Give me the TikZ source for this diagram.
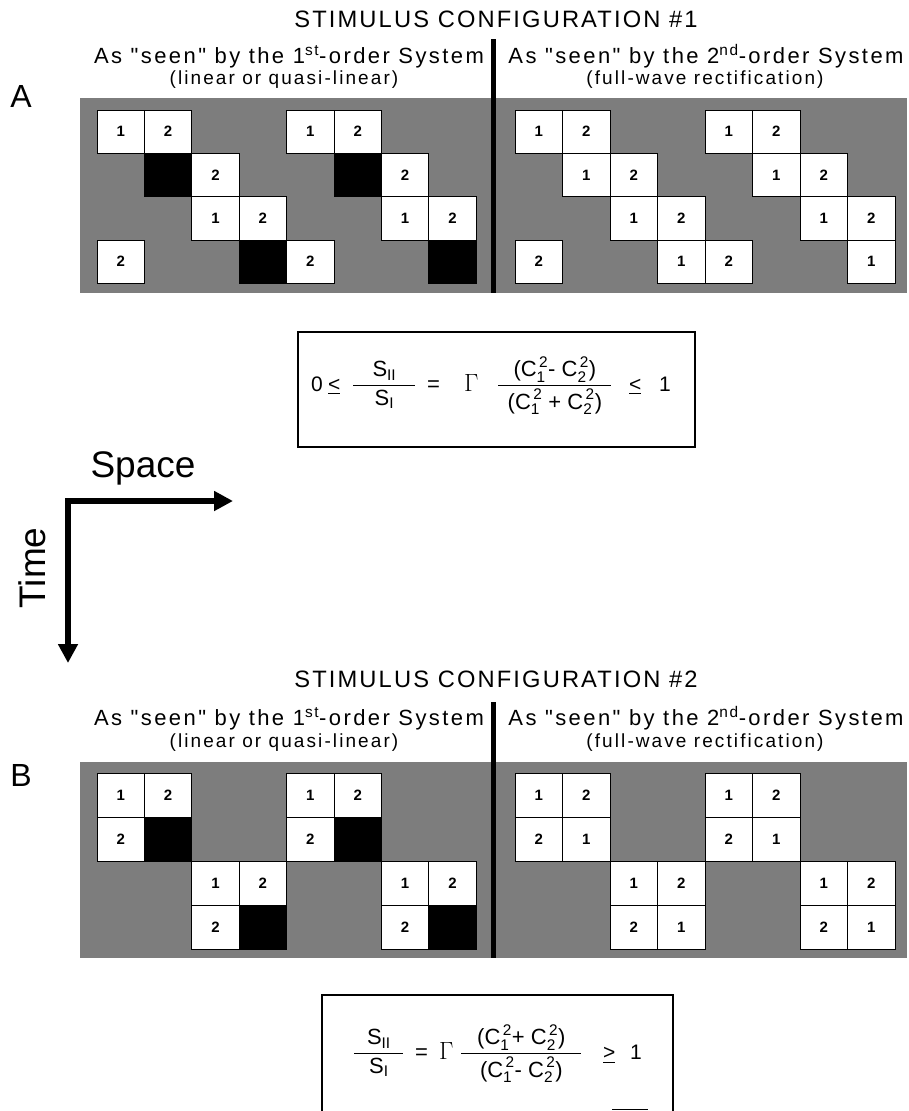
\documentclass[tikz,border=0pt]{standalone}
\usepackage{amsmath}
\usepackage{fontspec}
\setmainfont{Liberation Sans}
\newfontfamily\spacedfont[LetterSpace=9]{Liberation Sans}
\newfontfamily\widefont[LetterSpace=11]{Liberation Sans}
\usetikzlibrary{arrows.meta}
\definecolor{halftone}{RGB}{125,125,125}
\newcommand\tx[1]{\text{#1}}
\newcommand\Csq[1]{\tx{C}^{\,\tx{2}}_{\tx{#1}}}
\newcommand\wfrac[3]{$\displaystyle\frac{\hbox to #1{\hss$\displaystyle #2$\hss}}{\hbox to #1{\hss$\displaystyle #3$\hss}}$}
\tikzset{
  wcell/.style={draw=black, line width=0.7pt, fill=white, inner sep=0pt,
    minimum width=47.4pt, minimum height=43.3pt, font=\fontsize{15}{15}\selectfont\bfseries},
  bcell/.style={wcell, fill=black},
  wcellB/.style={wcell, minimum height=44pt},
  bcellB/.style={bcell, minimum height=44pt},
  titletext/.style={inner sep=0pt, anchor=base, font=\spacedfont\fontsize{23.7}{28}\selectfont},
  headtext/.style={inner sep=0pt, anchor=base, font=\widefont\fontsize{22}{26}\selectfont},
  subtext/.style={inner sep=0pt, anchor=base, font=\widefont\fontsize{19}{22}\selectfont},
  panelletter/.style={inner sep=0pt, anchor=base, font=\fontsize{32}{36}\selectfont},
  axislabel/.style={inner sep=0pt, anchor=base, font=\fontsize{37}{40}\selectfont},
  divider/.style={line width=5pt, black},
  eqbox/.style={line width=1.4pt, black},
  eqpart/.style={inner sep=0pt, anchor=base west, font=\fontsize{22}{26}\selectfont},
  eqsmall/.style={inner sep=0pt, anchor=base west, font=\fontsize{21}{25}\selectfont},
  axisarrow/.style={line width=5.5pt, line join=miter, {Triangle[length=19pt,width=19pt]}-{Triangle[length=19pt,width=19pt]}}
}
\begin{document}
\begin{tikzpicture}[x=1pt,y=-1pt]
\useasboundingbox (0,0) rectangle (908,1111);
\fill[white] (0,0) rectangle (908,1111);

% ---------------- Panel A ----------------
\node[titletext] (titleA) at (496,27) {STIMULUS CONFIGURATION \#1};
\node[headtext] (headAL) at (289,63) {As "seen" by the 1\textsuperscript{st}-order System};
\node[subtext] (subAL) at (284,84) {(linear or quasi-linear)};
\node[headtext] (headAR) at (706,63) {As "seen" by the 2\textsuperscript{nd}-order System};
\node[subtext] (subAR) at (705,84) {(full-wave rectification)};
\node[panelletter] (letA) at (21,107) {A};

\fill[halftone] (80,98) rectangle (907,293);
\draw[divider] (493,39) -- (493,293);

% left (1st order) cells
\foreach \c/\r/\t [count=\i] in {0/0/1,1/0/2,4/0/1,5/0/2,2/1/2,6/1/2,2/2/1,3/2/2,6/2/1,7/2/2,0/3/2,4/3/2}
  \node[wcell] (aL\i) at ({97+47.4*(\c+0.5)},{110+43.3*(\r+0.5)}) {\t};
\foreach \c/\r [count=\i] in {1/1,5/1,3/3,7/3}
  \node[bcell] (aLk\i) at ({97+47.4*(\c+0.5)},{110+43.3*(\r+0.5)}) {};
% right (2nd order) cells
\foreach \c/\r/\t [count=\i] in {0/0/1,1/0/2,4/0/1,5/0/2,1/1/1,2/1/2,5/1/1,6/1/2,2/2/1,3/2/2,6/2/1,7/2/2,0/3/2,3/3/1,4/3/2,7/3/1}
  \node[wcell] (aR\i) at ({515+47.5*(\c+0.5)},{110+43.3*(\r+0.5)}) {\t};

% equation box 1
\draw[eqbox] (298,332) rectangle (695,447);
\node[eqsmall] (e1zero) at (311,391) {0};
\node[eqsmall] (e1le) at (328,391) {\underline{<}};
\node[eqpart] (e1fracS) at (352,391) {\wfrac{62pt}{\tx{S}_{\tx{II}}}{\tx{S}_{\tx{I}}}};
\node[eqpart] (e1eq) at (427,391) {=};
\node[eqpart] (e1gamma) at (464,391) {\fontsize{24}{28}\selectfont$\Gamma$};
\node[eqpart] (e1fracC) at (497,391) {\wfrac{113pt}{\tx{(}\Csq{1}\tx{- }\Csq{2}\tx{)}}{\tx{(}\Csq{1}\tx{ + }\Csq{2}\tx{)}}};
\node[eqsmall] (e1le2) at (629,391) {\underline{<}};
\node[eqsmall] (e1one) at (659,391) {1};

% ---------------- Axes ----------------
\coordinate (corner) at (68,501);
\coordinate (spaceEnd) at (233,501);
\coordinate (timeEnd) at (68,663);
\draw[axisarrow] (spaceEnd) -- (corner) -- (timeEnd);
\node[axislabel] (space) at (143,477) {Space};
\node[axislabel, rotate=90] (time) at (45,568) {Time};

% ---------------- Panel B ----------------
\node[titletext] (titleB) at (496,687) {STIMULUS CONFIGURATION \#2};
\node[headtext] (headBL) at (289,725) {As "seen" by the 1\textsuperscript{st}-order System};
\node[subtext] (subBL) at (284,747) {(linear or quasi-linear)};
\node[headtext] (headBR) at (706,725) {As "seen" by the 2\textsuperscript{nd}-order System};
\node[subtext] (subBR) at (705,747) {(full-wave rectification)};
\node[panelletter] (letB) at (21,786) {B};

\fill[halftone] (80,762) rectangle (907,958);
\draw[divider] (493,702) -- (493,958);

\foreach \c/\r/\t [count=\i] in {0/0/1,1/0/2,4/0/1,5/0/2,0/1/2,4/1/2,2/2/1,3/2/2,6/2/1,7/2/2,2/3/2,6/3/2}
  \node[wcellB] (bL\i) at ({97+47.4*(\c+0.5)},{773+44*(\r+0.5)}) {\t};
\foreach \c/\r [count=\i] in {1/1,5/1,3/3,7/3}
  \node[bcellB] (bLk\i) at ({97+47.4*(\c+0.5)},{773+44*(\r+0.5)}) {};
\foreach \c/\r/\t [count=\i] in {0/0/1,1/0/2,4/0/1,5/0/2,0/1/2,1/1/1,4/1/2,5/1/1,2/2/1,3/2/2,6/2/1,7/2/2,2/3/2,3/3/1,6/3/2,7/3/1}
  \node[wcellB] (bR\i) at ({515+47.5*(\c+0.5)},{773+44*(\r+0.5)}) {\t};

% equation box 2 (cut by the lower edge)
\draw[eqbox] (322,1115) -- (322,995) -- (673,995) -- (673,1115);
\node[eqpart] (e2fracS) at (353,1059) {\wfrac{49pt}{\tx{S}_{\tx{II}}}{\tx{S}_{\tx{I}}}};
\node[eqpart] (e2eq) at (415,1059) {=};
\node[eqpart] (e2gamma) at (439,1059) {\fontsize{24}{28}\selectfont$\Gamma$};
\node[eqpart] (e2fracC) at (460,1059) {\wfrac{120pt}{\tx{(}\Csq{1}\tx{+ }\Csq{2}\tx{)}}{\tx{(}\Csq{1}\tx{- }\Csq{2}\tx{)}}};
\node[eqsmall] (e2ge) at (603,1059) {\underline{>}};
\node[eqsmall] (e2one) at (630,1059) {1};
\draw[line width=1.2pt] (612,1109.5) -- (648,1109.5);
\end{tikzpicture}
\end{document}
